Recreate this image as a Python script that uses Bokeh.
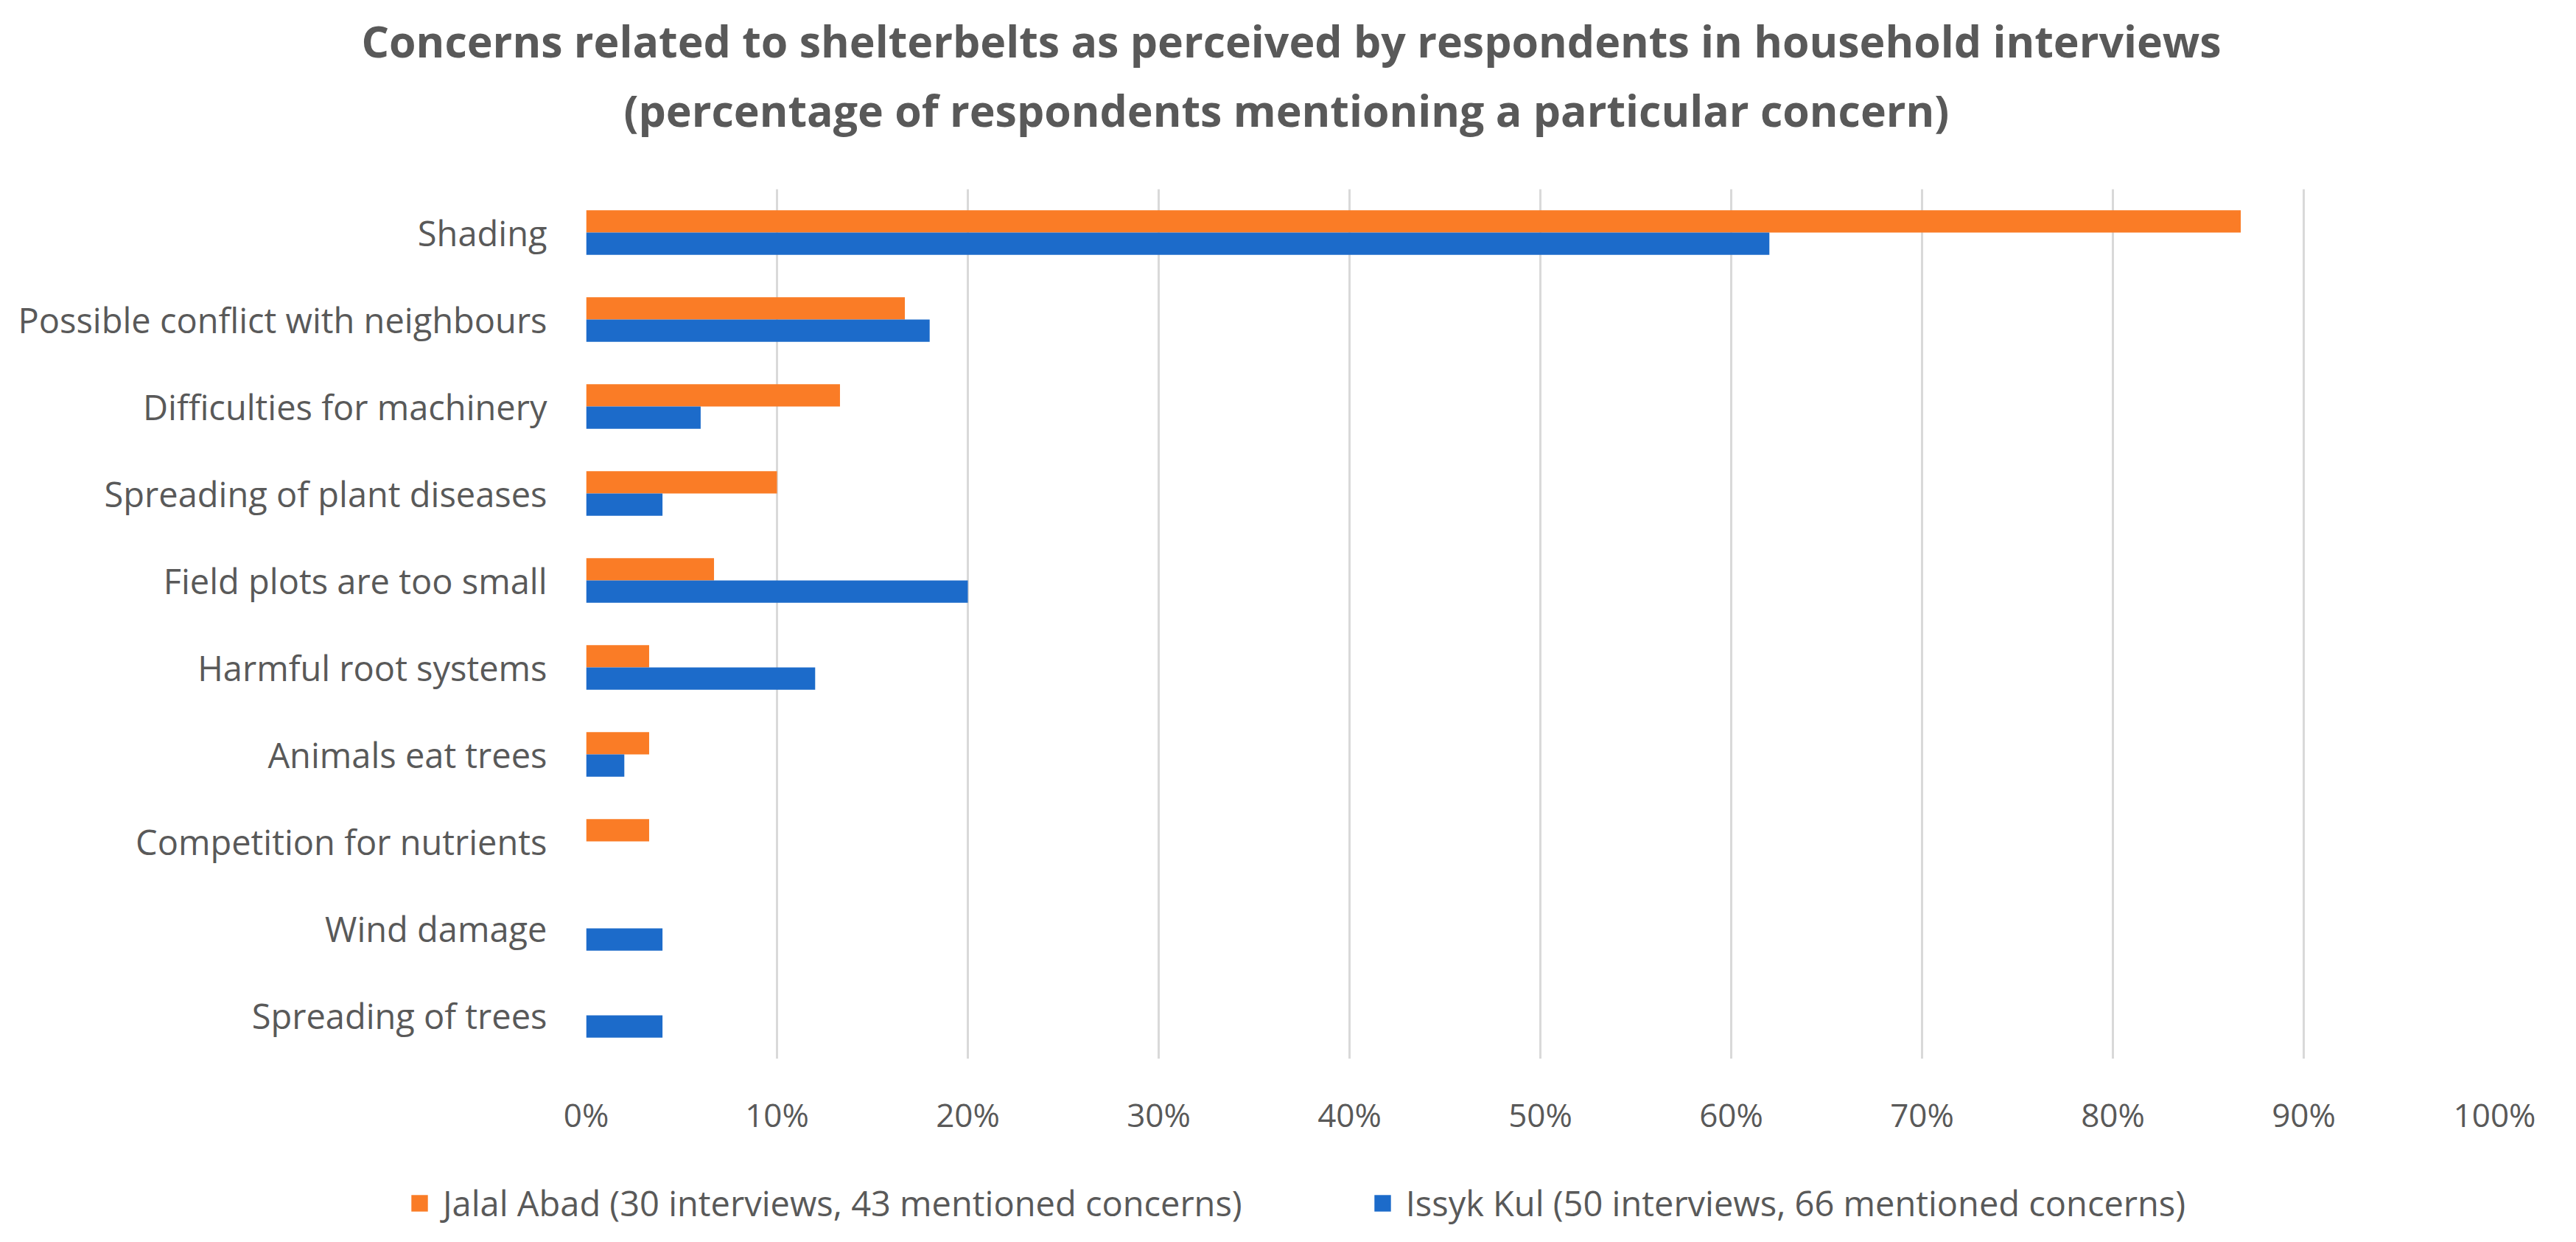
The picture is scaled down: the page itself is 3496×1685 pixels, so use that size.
from bokeh.plotting import figure
from bokeh.models import (ColumnDataSource, FactorRange, Range1d, FixedTicker,
                          PrintfTickFormatter, Legend, LegendItem, Title)
from bokeh.transform import dodge
from bokeh.embed import file_html
from bokeh.resources import INLINE

# ---------------- data ----------------
categories = [
    "Shading",
    "Possible conflict with neighbours",
    "Difficulties for machinery",
    "Spreading of plant diseases",
    "Field plots are too small",
    "Harmful root systems",
    "Animals eat trees",
    "Competition for nutrients",
    "Wind damage",
    "Spreading of trees",
]
jalal_abad = [86.7, 16.7, 13.3, 10.0, 6.7, 3.3, 3.3, 3.3, 0.0, 0.0]
issyk_kul = [62.0, 18.0, 6.0, 4.0, 20.0, 12.0, 2.0, 0.0, 4.0, 4.0]
series_names = ["Jalal Abad (30 interviews, 43 mentioned concerns)",
                "Issyk Kul (50 interviews, 66 mentioned concerns)"]
x_ticks = [0, 10, 20, 30, 40, 50, 60, 70, 80, 90, 100]
title_lines = ["Concerns related to shelterbelts as perceived by respondents in household interviews",
               "(percentage of respondents mentioning a particular concern)"]

ORANGE = "#FA7C26"
BLUE = "#1C6BCA"
TEXT = "#595959"
FONT = "Open Sans"

W = 3480
MAIN_H = 1586
LEG_H = 83

src = ColumnDataSource(dict(cat=categories, jalal=jalal_abad, issyk=issyk_kul))

p = figure(width=W, height=MAIN_H,
           y_range=FactorRange(factors=list(reversed(categories))),
           x_range=Range1d(0, 100),
           output_backend="svg", toolbar_location=None,
           min_border_left=795, min_border_right=95, min_border_top=255,
           min_border_bottom=150)
p.outline_line_color = None

r1 = p.hbar(y=dodge("cat", 0.128, range=p.y_range), right="jalal", left=0, height=0.256,
            source=src, fill_color=ORANGE, line_color=None)
r2 = p.hbar(y=dodge("cat", -0.128, range=p.y_range), right="issyk", left=0, height=0.256,
            source=src, fill_color=BLUE, line_color=None)

p.xaxis.ticker = FixedTicker(ticks=x_ticks)
p.xaxis.formatter = PrintfTickFormatter(format="%d%%")
for ax in (p.xaxis, p.yaxis):
    ax.axis_line_color = None
    ax.major_tick_line_color = None
    ax.minor_tick_line_color = None
    ax.major_tick_out = 0
    ax.major_tick_in = 0
    ax.major_label_text_font = FONT
    ax.major_label_text_color = TEXT
p.xaxis.major_label_text_font_size = "44px"
p.xaxis.major_label_standoff = 45
p.yaxis.major_label_text_font_size = "47px"
p.yaxis.major_label_standoff = 53

p.ygrid.grid_line_color = None
p.xgrid.grid_line_color = "#D9D9D9"
p.xgrid.grid_line_width = 3

# title: spacer, then line 2, then line 1 (later = further from the plot)
p.add_layout(Title(text=" ", text_font_size="10px", standoff=55), "above")
p.add_layout(Title(text=title_lines[1], align="left", offset=51, standoff=0,
                   text_font=FONT, text_font_style="bold", text_font_size="59px",
                   text_color=TEXT), "above")
p.add_layout(Title(text=title_lines[0], align="left", offset=-305, standoff=24,
                   text_font=FONT, text_font_style="bold", text_font_size="59px",
                   text_color=TEXT), "above")

# legend strip below the chart (separate root so that it can span the full width)
lg = figure(width=W, height=LEG_H, x_range=Range1d(0, 1), y_range=Range1d(0, 1),
            output_backend="svg", toolbar_location=None,
            x_axis_location=None, y_axis_location=None,
            min_border_left=0, min_border_right=0, min_border_top=0, min_border_bottom=0)
lg.grid.visible = False
lg.outline_line_color = None
# legend key renderers: same styling as the bars, kept outside the visible strip
key_src = ColumnDataSource(dict(y=[-5.0], right=[1.0]))
k1 = lg.hbar(y="y", right="right", left=0, height=0.5, source=key_src,
             fill_color=ORANGE, line_color=None)
k2 = lg.hbar(y="y", right="right", left=0, height=0.5, source=key_src,
             fill_color=BLUE, line_color=None)
legend = Legend(items=[LegendItem(label=series_names[0], renderers=[k1]),
                       LegendItem(label=series_names[1], renderers=[k2])],
                location=(555, 5), orientation="horizontal",
                glyph_width=28, glyph_height=28, label_standoff=18, spacing=176,
                padding=0, margin=0, border_line_color=None, background_fill_alpha=0,
                label_text_font=FONT, label_text_font_size="47px", label_text_color=TEXT)
lg.add_layout(legend, "center")

open("out.html", "w").write(file_html([p, lg], INLINE))
